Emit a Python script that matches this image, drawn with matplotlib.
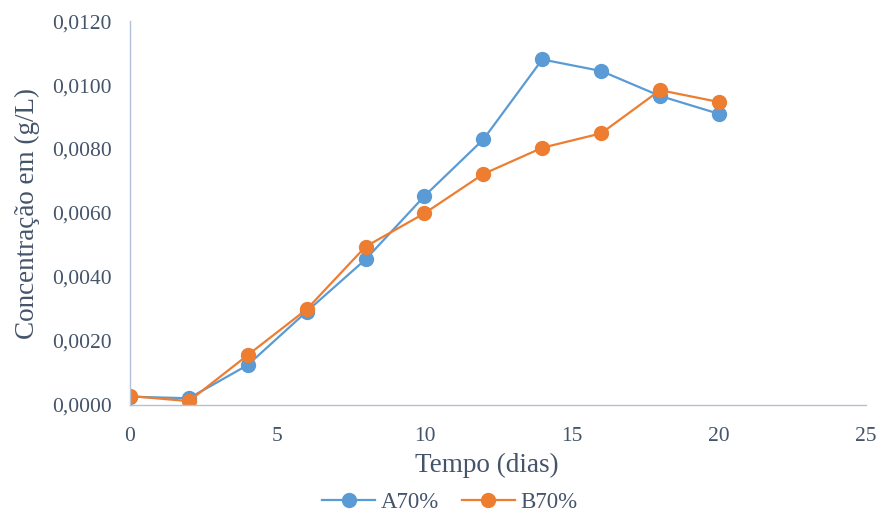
import matplotlib
matplotlib.use('Agg')
import matplotlib.pyplot as plt
from matplotlib.ticker import FuncFormatter, MultipleLocator

# --- Data ---
tempo = [0, 2, 4, 6, 8, 10, 12, 14, 16, 18, 20]
a70 = [0.00026, 0.00021, 0.00125, 0.00292, 0.00455, 0.00653, 0.00830, 0.01080, 0.01044, 0.00966, 0.00910]
b70 = [0.00028, 0.00012, 0.00156, 0.00299, 0.00495, 0.00599, 0.00722, 0.00804, 0.00849, 0.00984, 0.00947]

plt.rcParams['font.family'] = ['Liberation Serif', 'DejaVu Serif']
text_color = '#44546A'
axis_color = '#B4C0D6'

fig = plt.figure(figsize=(8.82, 5.14), dpi=100)
ax = fig.add_axes([0.1474, 0.2121, 0.8346, 0.7469])

ax.plot(tempo, a70, color='#5B9BD5', lw=1.6, marker='o', ms=10, label='A70%')
ax.plot(tempo, b70, color='#ED7D31', lw=1.6, marker='o', ms=10, label='B70%')

ax.set_xlim(0, 25)
ax.set_ylim(0, 0.012)
ax.xaxis.set_major_locator(MultipleLocator(5))
ax.yaxis.set_major_locator(MultipleLocator(0.002))
ax.yaxis.set_major_formatter(FuncFormatter(lambda v, p: f'{v:.4f}'.replace('.', ',')))

for s in ['top', 'right']:
    ax.spines[s].set_visible(False)
for s in ['left', 'bottom']:
    ax.spines[s].set_color(axis_color)
    ax.spines[s].set_linewidth(1.0)

ax.tick_params(axis='both', length=0, labelsize=15.5, colors=text_color)
ax.tick_params(axis='x', pad=16)
ax.tick_params(axis='y', pad=13)
for lab in ax.get_xticklabels() + ax.get_yticklabels():
    lab.set_clip_on(False)

ax.set_xlabel('Tempo (dias)', fontsize=19.5, color=text_color, labelpad=5, x=0.485)
ax.set_ylabel('Concentração em (g/L)', fontsize=19.5, color=text_color, labelpad=9)

fig.legend(loc='center', bbox_to_anchor=(0.51, 0.022), ncol=2, frameon=False,
           fontsize=16.5, labelcolor=text_color, handlelength=2.3, columnspacing=1.0,
           handletextpad=0.25, borderpad=0)

fig.savefig('out.png', dpi=100)
